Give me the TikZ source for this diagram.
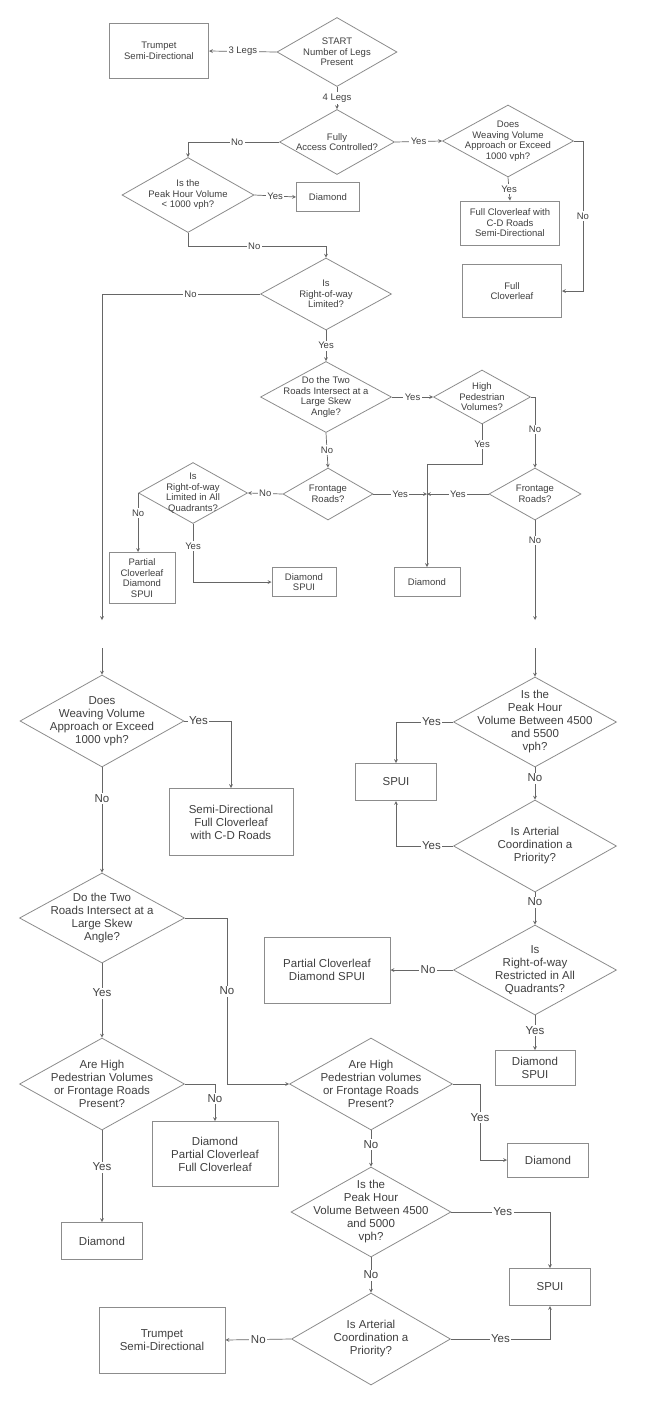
\documentclass[tikz,border=0pt]{standalone}
\usepackage{fontspec}
\setmainfont{Liberation Sans}
\usepackage{tikz,xcolor}
\usetikzlibrary{shapes.geometric,arrows,positioning}
\definecolor{shapegray}{gray}{0.55}
\definecolor{wiregray}{gray}{0.4}
\definecolor{inkgray}{gray}{0.25}
\tikzstyle{arrow} = [line width=0.7pt,->,>=stealth,draw=wiregray]
\tikzstyle{decide} = [shape=diamond,draw=shapegray,line width=0.8pt,inner sep=-40pt,align=center,text=inkgray]
\tikzstyle{outcome} = [shape=rectangle,draw=shapegray,line width=1pt,inner sep=2pt,align=center,text=inkgray]
\tikzstyle{answer} = [fill=white,inner sep=1.5pt,text=inkgray]

\begin{document}
\begin{tikzpicture}[x=1pt,y=-1pt,>=stealth]
    \fill[white] (0,0) rectangle (645,1409);
    \useasboundingbox (0,0) rectangle (645,1409);
    \begin{scope}[font=\fontsize{9.5}{10.5}\selectfont]
    % create the nodes
    \node (trump1) [outcome, minimum width=99, minimum height=55] at (159,51) {Trumpet\\Semi-Directional};
    \node (start) [decide, minimum width=120, minimum height=69] at (337,52) {START\\Number of Legs\\Present};
    \node (access) [decide, minimum width=115, minimum height=65] at (337,142) {Fully\\Access Controlled?};
    \node (weave1) [decide, minimum width=131, minimum height=72] at (508,141) {Does\\Weaving Volume\\Approach or Exceed\\1000 vph?};
    \node (fcdsd) [outcome, minimum width=99, minimum height=44] at (510,223) {Full Cloverleaf with\\C-D Roads\\Semi-Directional};
    \node (fcl) [outcome, minimum width=99, minimum height=53] at (512,291) {Full\\Cloverleaf};
    \node (peak1) [decide, minimum width=132, minimum height=75] at (188,195) {Is the\\Peak Hour Volume\\< 1000 vph?};
    \node (dia1) [outcome, minimum width=63, minimum height=29] at (328,197) {Diamond};
    \node (rowlim) [decide, minimum width=131, minimum height=72] at (326,294) {Is\\Right-of-way\\Limited?};
    \node (skew1) [decide, minimum width=131, minimum height=71] at (326,397) {Do the Two\\Roads Intersect at a\\Large Skew\\Angle?};
    \node (ped1) [decide, minimum width=97, minimum height=54] at (482,397) {High\\Pedestrian\\Volumes?};
    \node (front1) [decide, minimum width=90, minimum height=52] at (328,494) {Frontage\\Roads?};
    \node (front2) [decide, minimum width=92, minimum height=52] at (535,494) {Frontage\\Roads?};
    \node (quad1) [decide, minimum width=109, minimum height=61] at (193,493) {Is\\Right-of-way\\Limited in All\\Quadrants?};
    \node (pcds) [outcome, minimum width=66, minimum height=51] at (142,578) {Partial\\Cloverleaf\\Diamond\\SPUI};
    \node (dspui1) [outcome, minimum width=64, minimum height=29] at (304,582) {Diamond\\SPUI};
    \node (dia2) [outcome, minimum width=66, minimum height=29] at (427,582) {Diamond};
    \coordinate (jn) at (427,494);
    \coordinate (offL) at (102,620);
    \coordinate (offR) at (535,620);
    % connect the nodes
    \draw[arrow] (start.west) -- node[answer] {3 Legs} (trump1.east);
    \draw[arrow] (start.south) -- node[answer] {4 Legs} (access.north);
    \draw[arrow] (access.west) -| node[answer, pos=0.23] {No} (peak1.north);
    \draw[arrow] (access.east) -- node[answer] {Yes} (weave1.west);
    \draw[arrow] (weave1.east) -- ++(9,0) |- node[answer, pos=0.25] {No} (fcl.east);
    \draw[arrow] (weave1.south) -- node[answer] {Yes} (fcdsd.north);
    \draw[arrow] (peak1.east) -- node[answer] {Yes} (dia1.west);
    \draw[arrow] (peak1.south) -- ++(0,13) -| node[answer, pos=0.24] {No} (rowlim.north);
    \draw[arrow] (rowlim.west) -| node[answer, pos=0.22] {No} (offL);
    \draw[arrow] (rowlim.south) -- node[answer] {Yes} (skew1.north);
    \draw[arrow] (skew1.east) -- node[answer] {Yes} (ped1.west);
    \draw[arrow] (ped1.east) -| node[answer, pos=0.73] {No} (front2.north);
    \draw[arrow] (ped1.south) -- node[answer] {Yes} ++(0,40) -| (dia2.north);
    \draw[arrow] (skew1.south) -- node[answer] {No} (front1.north);
    \draw[arrow] (front1.east) -- node[answer] {Yes} (jn);
    \draw[arrow] (front2.west) -- node[answer] {Yes} (jn);
    \draw[arrow] (front1.west) -- node[answer] {No} (quad1.east);
    \draw[arrow] (quad1.west) -- node[answer, pos=0.34] {No} (quad1.west |- pcds.north);
    \draw[arrow] (quad1.south) |- node[answer, pos=0.19] {Yes} (dspui1.west);
    \draw[arrow] (front2.south) -- node[answer, pos=0.2] {No} (offR);
    \end{scope}
    \begin{scope}[font=\fontsize{11.5}{13}\selectfont]
    % create the nodes
    \coordinate (onL) at (102,648);
    \coordinate (onR) at (535,648);
    \node (weave2) [decide, minimum width=164, minimum height=92] at (102,721) {Does\\Weaving Volume\\Approach or Exceed\\1000 vph?};
    \node (sdfc) [outcome, minimum width=124, minimum height=67] at (231,822) {Semi-Directional\\Full Cloverleaf\\with C-D Roads};
    \node (skew2) [decide, minimum width=165, minimum height=90] at (102,918) {Do the Two\\Roads Intersect at a\\Large Skew\\Angle?};
    \node (ped2) [decide, minimum width=165, minimum height=92] at (102,1084) {Are High\\Pedestrian Volumes\\or Frontage Roads\\Present?};
    \node (dpf) [outcome, minimum width=126, minimum height=65] at (215,1154) {Diamond\\Partial Cloverleaf\\Full Cloverleaf};
    \node (dia3) [outcome, minimum width=81, minimum height=37] at (102,1241) {Diamond};
    \node (ped3) [decide, minimum width=163, minimum height=92] at (371,1084) {Are High\\Pedestrian volumes\\or Frontage Roads\\Present?};
    \node (dia4) [outcome, minimum width=81, minimum height=34] at (548,1160) {Diamond};
    \node (peak3) [decide, minimum width=160, minimum height=90] at (371,1212) {Is the\\Peak Hour\\Volume Between 4500\\and 5000\\vph?};
    \node (spui2) [outcome, minimum width=81, minimum height=37] at (550,1287) {SPUI};
    \node (art2) [decide, minimum width=159, minimum height=92] at (371,1339) {Is Arterial\\Coordination a\\Priority?};
    \node (trump2) [outcome, minimum width=126, minimum height=66] at (162,1340) {Trumpet\\Semi-Directional};
    \node (peak2) [decide, minimum width=163, minimum height=90] at (535,722) {Is the\\Peak Hour\\Volume Between 4500\\and 5500\\vph?};
    \node (spui1) [outcome, minimum width=81, minimum height=37] at (396,782) {SPUI};
    \node (art1) [decide, minimum width=163, minimum height=92] at (535,846) {Is Arterial\\Coordination a\\Priority?};
    \node (quad2) [decide, minimum width=163, minimum height=90] at (535,970) {Is\\Right-of-way\\Restricted in All\\Quadrants?};
    \node (pcd2) [outcome, minimum width=126, minimum height=66] at (327,970) {Partial Cloverleaf\\Diamond SPUI};
    \node (dspui2) [outcome, minimum width=80, minimum height=35] at (535,1068) {Diamond\\SPUI};
    % connect the nodes
    \draw[arrow] (onL) -- (weave2.north);
    \draw[arrow] (weave2.east) -| node[answer, pos=0.15] {Yes} (sdfc.north);
    \draw[arrow] (weave2.south) -- node[answer, pos=0.3] {No} (skew2.north);
    \draw[arrow] (skew2.east) -- ++(42,0) |- node[answer, pos=0.22] {No} (ped3.west);
    \draw[arrow] (skew2.south) -- node[answer, pos=0.4] {Yes} (ped2.north);
    \draw[arrow] (ped2.east) -| node[answer, pos=0.7] {No} (dpf.north);
    \draw[arrow] (ped2.south) -- node[answer, pos=0.4] {Yes} (dia3.north);
    \draw[arrow] (ped3.east) -- ++(27,0) |- node[answer, pos=0.22] {Yes} (dia4.west);
    \draw[arrow] (ped3.south) -- node[answer, pos=0.4] {No} (peak3.north);
    \draw[arrow] (peak3.east) -| node[answer, pos=0.26] {Yes} (spui2.north);
    \draw[arrow] (peak3.south) -- node[answer] {No} (art2.north);
    \draw[arrow] (art2.west) -- node[answer] {No} (trump2.east);
    \draw[arrow] (art2.east) -| node[answer, pos=0.25] {Yes} (spui2.south);
    \draw[arrow] (onR) -- (peak2.north);
    \draw[arrow] (peak2.west) -| node[answer, pos=0.19] {Yes} (spui1.north);
    \draw[arrow] (peak2.south) -- node[answer, pos=0.33] {No} (art1.north);
    \draw[arrow] (art1.west) -| node[answer, pos=0.19] {Yes} (spui1.south);
    \draw[arrow] (art1.south) -- node[answer, pos=0.3] {No} (quad2.north);
    \draw[arrow] (quad2.west) -- node[answer, pos=0.4] {No} (pcd2.east);
    \draw[arrow] (quad2.south) -- node[answer, pos=0.43] {Yes} (dspui2.north);
    \end{scope}
\end{tikzpicture}
\end{document}
